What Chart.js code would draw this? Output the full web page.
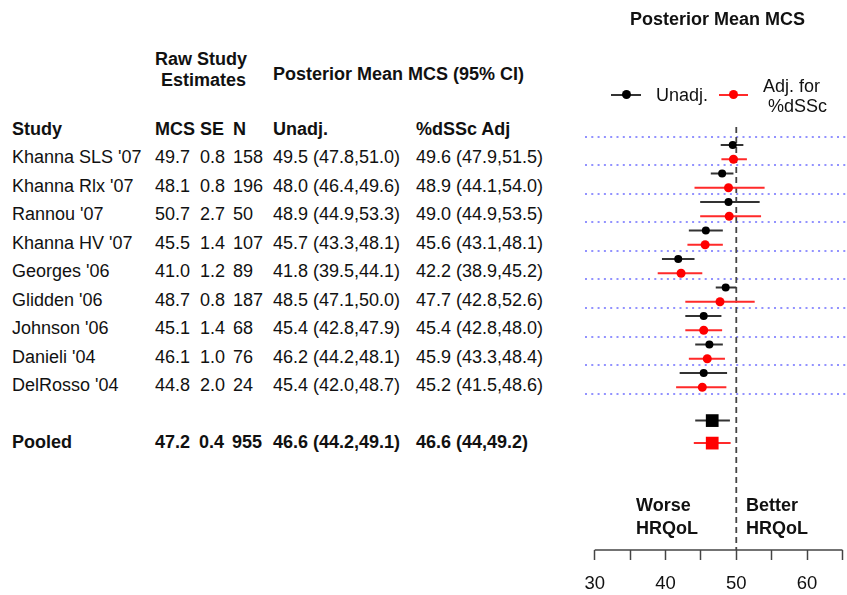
<!DOCTYPE html>
<html>
<head>
<meta charset="utf-8">
<script src="https://cdn.jsdelivr.net/npm/chart.js@4.4.0/dist/chart.umd.min.js"></script>
<style>
  body { margin: 0; background: #fff; font-family: "Liberation Sans", Arial, sans-serif; color: #111; }
  #page { position: relative; width: 847px; height: 595px; overflow: hidden; }
  .t { position: absolute; white-space: nowrap; font-size: 18px; line-height: 18px; }
  .b { font-weight: bold; }
  #plot { position: absolute; left: 560px; top: 0; }
  .mk { position: absolute; }
</style>
</head>
<body>
<div id="page">
  <canvas id="plot" width="287" height="595"></canvas>
</div>
<script>
// raw study estimates
const studies = ["Khanna SLS '07", "Khanna Rlx '07", "Rannou '07", "Khanna HV '07", "Georges '06",
                 "Glidden '06", "Johnson '06", "Danieli '04", "DelRosso '04"];
const rawMcs = [49.7, 48.1, 50.7, 45.5, 41.0, 48.7, 45.1, 46.1, 44.8];
const rawSe  = [0.8, 0.8, 2.7, 1.4, 1.2, 0.8, 1.4, 1.0, 2.0];
const rawN   = [158, 196, 50, 107, 89, 187, 68, 76, 24];

// posterior means with 95% CI
const unadjMean = [49.5, 48.0, 48.9, 45.7, 41.8, 48.5, 45.4, 46.2, 45.4];
const unadjLo   = [47.8, 46.4, 44.9, 43.3, 39.5, 47.1, 42.8, 44.2, 42.0];
const unadjHi   = [51.0, 49.6, 53.3, 48.1, 44.1, 50.0, 47.9, 48.1, 48.7];
const adjMean   = [49.6, 48.9, 49.0, 45.6, 42.2, 47.7, 45.4, 45.9, 45.2];
const adjLo     = [47.9, 44.1, 44.9, 43.1, 38.9, 42.8, 42.8, 43.3, 41.5];
const adjHi     = [51.5, 54.0, 53.5, 48.1, 45.2, 52.6, 48.0, 48.4, 48.6];

// pooled row
const pooledRaw   = [47.2, 0.4, 955];
const pooledUnadj = [46.6, 44.2, 49.1];
const pooledAdj   = [46.6, 44, 49.2];

const xTicks = [30, 35, 40, 45, 50, 55, 60, 65];
const xTickLabels = ["30", "", "40", "", "50", "", "60", ""];
const refValue = 50;

// ---- text table ----
const page = document.getElementById("page");
function put(txt, x, cy, cls) {
  const d = document.createElement("div");
  d.className = "t " + (cls || "");
  d.textContent = txt;
  d.style.left = x + "px";
  d.style.top = (cy - 9) + "px";
  page.appendChild(d);
}
const f1 = v => v.toFixed(1);

put("Posterior Mean MCS", 630, 18.5, "b");
put("Raw Study", 155, 59, "b");
put("Estimates", 161, 80, "b");
put("Posterior Mean MCS (95% CI)", 273, 73.5, "b");

put("Study", 12, 129, "b");
put("MCS", 155, 129, "b");
put("SE", 200, 129, "b");
put("N", 233, 129, "b");
put("Unadj.", 273, 129, "b");
put("%dSSc Adj", 416, 129, "b");

studies.forEach((s, i) => {
  const cy = 157 + 28.5 * i;
  put(s, 12, cy);
  put(f1(rawMcs[i]), 155, cy);
  put(f1(rawSe[i]), 200, cy);
  put(String(rawN[i]), 233, cy);
  put(f1(unadjMean[i]) + " (" + f1(unadjLo[i]) + "," + f1(unadjHi[i]) + ")", 273, cy);
  put(f1(adjMean[i]) + " (" + f1(adjLo[i]) + "," + f1(adjHi[i]) + ")", 416, cy);
});

put("Pooled", 12, 442, "b");
put(String(pooledRaw[0]), 155, 442, "b");
put(String(pooledRaw[1]), 199, 442, "b");
put(String(pooledRaw[2]), 232, 442, "b");
put(pooledUnadj[0] + " (" + pooledUnadj[1] + "," + pooledUnadj[2] + ")", 273, 442, "b");
put(pooledAdj[0] + " (" + pooledAdj[1] + "," + pooledAdj[2] + ")", 416, 442, "b");

// legend
put("Unadj.", 656, 95);
put("Adj. for", 763, 86);
put("%dSSc", 768, 106);
function marker(x1, x2, y, lineCol, dotCol) {
  const ln = document.createElement("div");
  ln.className = "mk";
  ln.style.cssText = `left:${x1}px;top:${y - 1}px;width:${x2 - x1}px;height:2px;background:${lineCol}`;
  page.appendChild(ln);
  const dot = document.createElement("div");
  dot.className = "mk";
  const c = (x1 + x2) / 2;
  dot.style.cssText = `left:${c - 4.5}px;top:${y - 4.5}px;width:9px;height:9px;border-radius:50%;background:${dotCol}`;
  page.appendChild(dot);
}
marker(611, 641, 94.5, "#333", "#000");
marker(719, 748, 94.5, "#ff2a2a", "#ff0000");

put("Worse", 636, 505, "b");
put("HRQoL", 636, 528, "b");
put("Better", 746, 505, "b");
put("HRQoL", 746, 528, "b");

// ---- plot ----
const rowUnadj = i => i + 0.28;
const rowAdj = i => i + 0.78;
const pooledUnadjRow = 9.95, pooledAdjRow = 10.74;

function ciData(lo, hi, rowFn, pLo, pHi, pRow) {
  const d = [];
  lo.forEach((v, i) => {
    d.push({ x: v, y: rowFn(i) }, { x: hi[i], y: rowFn(i) }, { x: hi[i], y: null });
  });
  d.push({ x: pLo, y: pRow }, { x: pHi, y: pRow });
  return d;
}

const axisLine = {
  id: "axisLine",
  afterDraw(chart) {
    const x = chart.scales.x, ctx = chart.ctx, y = chart.chartArea.bottom;
    ctx.save();
    ctx.strokeStyle = "#444";
    ctx.lineWidth = 1.5;
    ctx.beginPath();
    ctx.moveTo(x.getPixelForValue(xTicks[0]), y);
    ctx.lineTo(x.getPixelForValue(xTicks[xTicks.length - 1]), y);
    ctx.stroke();
    ctx.restore();
  }
};

new Chart(document.getElementById("plot"), {
  type: "line",
  data: {
    datasets: [
      { data: unadjMean.map((v, i) => ({ x: v, y: rowUnadj(i) })), showLine: false,
        pointRadius: 4, pointBackgroundColor: "#000", pointBorderWidth: 0, order: 0 },
      { data: adjMean.map((v, i) => ({ x: v, y: rowAdj(i) })), showLine: false,
        pointRadius: 4.5, pointBackgroundColor: "#ff0000", pointBorderWidth: 0, order: 0 },
      { data: [{ x: pooledUnadj[0], y: pooledUnadjRow }], showLine: false, pointStyle: "rect",
        pointRadius: 9, pointBackgroundColor: "#000", pointBorderWidth: 0, order: 0 },
      { data: [{ x: pooledAdj[0], y: pooledAdjRow }], showLine: false, pointStyle: "rect",
        pointRadius: 9, pointBackgroundColor: "#ff0000", pointBorderWidth: 0, order: 0 },
      { data: ciData(unadjLo, unadjHi, rowUnadj, pooledUnadj[1], pooledUnadj[2], pooledUnadjRow),
        borderColor: "#333", borderWidth: 2, pointRadius: 0, spanGaps: false, order: 1 },
      { data: ciData(adjLo, adjHi, rowAdj, pooledAdj[1], pooledAdj[2], pooledAdjRow),
        borderColor: "#ff2a2a", borderWidth: 2, pointRadius: 0, spanGaps: false, order: 1 },
      { data: [{ x: refValue, y: -0.35 }, { x: refValue, y: 14.49 }],
        borderColor: "#444", borderWidth: 1.8, borderDash: [6, 4], pointRadius: 0, order: 2 }
    ]
  },
  options: {
    responsive: false,
    animation: false,
    devicePixelRatio: 1,
    layout: { autoPadding: false, padding: { left: 25, top: 127, right: 0, bottom: 0 } },
    plugins: { legend: { display: false }, title: { display: false }, tooltip: { enabled: false } },
    scales: {
      x: {
        type: "linear", min: 28.63, max: 65.64,
        afterBuildTicks: s => { s.ticks = xTicks.map(v => ({ value: v })); },
        afterFit: s => { s.height = 45; s.paddingLeft = 0; s.paddingRight = 0; },
        ticks: { callback: (v, i) => xTickLabels[i], autoSkip: false, maxRotation: 0,
                 padding: 13, color: "#111",
                 font: { family: "Liberation Sans", size: 18.5 } },
        grid: { drawOnChartArea: false, drawTicks: true, tickLength: 10, tickColor: "#444", tickWidth: 1.5 },
        border: { display: false }
      },
      y: {
        type: "linear", reverse: true, min: -0.35, max: 14.49,
        afterBuildTicks: s => { s.ticks = [0, 1, 2, 3, 4, 5, 6, 7, 8, 9].map(v => ({ value: v })); },
        afterFit: s => { s.width = 0; s.paddingTop = 0; s.paddingBottom = 0; },
        ticks: { display: false },
        grid: { color: "rgba(110,110,255,0.75)", lineWidth: 2, drawTicks: false },
        border: { display: false, dash: [2, 4.3] }
      }
    }
  },
  plugins: [axisLine]
});
</script>
</body>
</html>
